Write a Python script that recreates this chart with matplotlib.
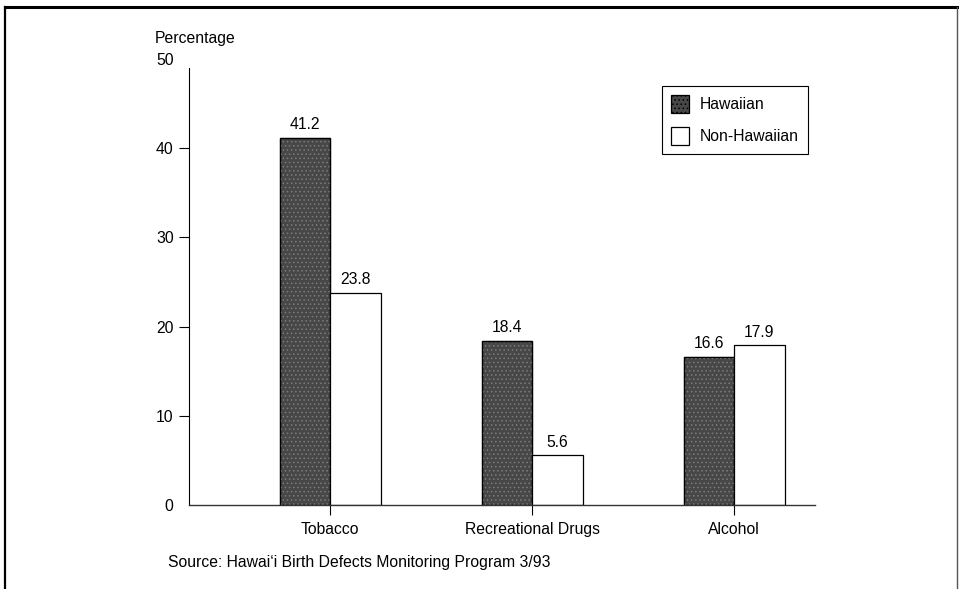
import matplotlib
matplotlib.use("Agg")
import matplotlib.pyplot as plt
from matplotlib.lines import Line2D
from matplotlib.patches import Patch
import numpy as np

categories = ["Tobacco", "Recreational Drugs", "Alcohol"]
hawaiian = [41.2, 18.4, 16.6]
non_hawaiian = [23.8, 5.6, 17.9]
series_names = ["Hawaiian", "Non-Hawaiian"]
y_ticks = [0, 10, 20, 30, 40, 50]
source_note = "Source: Hawai\u2018i Birth Defects Monitoring Program 3/93"

plt.rcParams["font.family"] = ["Liberation Sans", "DejaVu Sans"]
plt.rcParams["hatch.linewidth"] = 0.6
FS = 11.3
DARK = "#474747"
STIPPLE = "#7c7c7c"

fig = plt.figure(figsize=(9.59, 5.89), dpi=100)
ax = fig.add_axes([0.1971, 0.1426, 0.6527, 0.7572])

x = np.arange(len(categories))
w = 0.25
b1 = ax.bar(x - w / 2, hawaiian, w, color=DARK, edgecolor="black", linewidth=0.9)
# stippled screen on the dark bars
ax.bar(x - w / 2, hawaiian, w, facecolor="none", edgecolor=STIPPLE, linewidth=0,
       hatch="....")
ax.bar(x - w / 2, hawaiian, w, facecolor="none", edgecolor="black", linewidth=0.9)
b2 = ax.bar(x + w / 2, non_hawaiian, w, color="white", edgecolor="black", linewidth=0.9)

for bars, vals in ((b1, hawaiian), (b2, non_hawaiian)):
    for rect, v in zip(bars, vals):
        ax.annotate(f"{v:.1f}", (rect.get_x() + rect.get_width() / 2, v),
                    xytext=(0, 4), textcoords="offset points",
                    ha="center", va="bottom", fontsize=FS)

ax.set_xlim(-0.70, 2.40)
ax.set_ylim(0, 50)
ax.set_xticks(x)
ax.set_xticklabels(categories, fontsize=FS)
ax.set_yticks(y_ticks)
ax.set_yticklabels([str(t) for t in y_ticks], fontsize=FS)
ax.tick_params(axis="y", direction="out", length=7, width=0.8, pad=4)
ax.tick_params(axis="x", direction="out", length=7, width=0.8, pad=5)
ytl = ax.yaxis.get_major_ticks()
ytl[0].tick1line.set_visible(False)
ytl[-1].tick1line.set_visible(False)

for s in ("top", "right"):
    ax.spines[s].set_visible(False)
ax.spines["left"].set_bounds(0, 49)
ax.spines["left"].set_linewidth(0.8)
ax.spines["bottom"].set_linewidth(1.0)
ax.spines["bottom"].set_color("#333333")

handles = [Patch(facecolor=DARK, edgecolor="black", linewidth=0.9, hatch="...."),
           Patch(facecolor="white", edgecolor="black", linewidth=0.9)]
leg = ax.legend(handles, series_names, loc="upper left", bbox_to_anchor=(0.690, 0.854),
                bbox_transform=fig.transFigure, borderaxespad=0,
                fontsize=FS, frameon=True, fancybox=False, framealpha=1,
                edgecolor="black", handlelength=1.15, handleheight=1.3,
                handletextpad=0.65, labelspacing=0.95, borderpad=0.6)
leg.get_frame().set_linewidth(0.8)

fig.text(155 / 959, 1 - 38 / 589, "Percentage", fontsize=FS, ha="left", va="center")
fig.text(168 / 959, 1 - 562 / 589, source_note, fontsize=FS, ha="left", va="center")

# page frame
fig.add_artist(Line2D([5 / 959, 957 / 959], [1 - 7 / 589, 1 - 7 / 589],
                      transform=fig.transFigure, color="black", linewidth=2.2))
fig.add_artist(Line2D([5 / 959, 5 / 959], [0, 1 - 7 / 589],
                      transform=fig.transFigure, color="black", linewidth=1.6))
fig.add_artist(Line2D([957 / 959, 957 / 959], [0, 1 - 7 / 589],
                      transform=fig.transFigure, color="#555555", linewidth=1.0))

fig.savefig("out.png", dpi=100)
